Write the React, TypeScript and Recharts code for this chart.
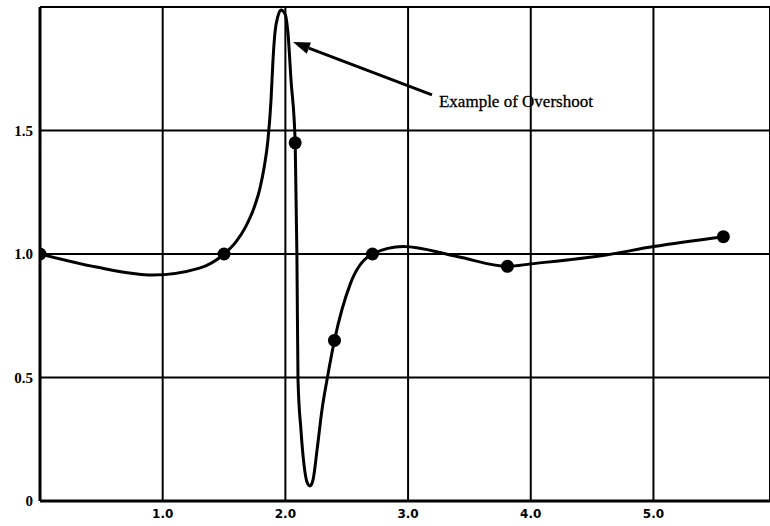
import React from "react";
import {
  ComposedChart,
  Line,
  Scatter,
  XAxis,
  YAxis,
  CartesianGrid,
  ReferenceLine,
} from "recharts";

// sample points (the dots)
const dotX = [0, 1.5, 2.08, 2.4, 2.71, 3.81, 5.57];
const dotY = [1.0, 1.0, 1.45, 0.65, 1.0, 0.95, 1.07];

// traced fitted curve, passing through the samples
const curveX = [
  0, 0.46, 0.92, 1.3, 1.5, 1.597, 1.679, 1.744, 1.793, 1.826, 1.858, 1.883,
  1.899, 1.915, 1.94, 1.964, 1.997, 2.021, 2.046, 2.08, 2.094, 2.103, 2.127,
  2.152, 2.176, 2.2, 2.225, 2.258, 2.298, 2.339, 2.4, 2.53, 2.71, 2.96, 3.4,
  3.81, 4.0, 4.6, 5.0, 5.57,
];
const curveY = [
  1.0, 0.947, 0.915, 0.943, 1.0, 1.049, 1.113, 1.186, 1.267, 1.348, 1.462,
  1.623, 1.785, 1.895, 1.964, 1.988, 1.972, 1.895, 1.704, 1.45, 0.996, 0.49,
  0.287, 0.146, 0.077, 0.061, 0.085, 0.206, 0.368, 0.49, 0.65, 0.88, 1.0,
  1.03, 0.99, 0.95, 0.96, 0.995, 1.03, 1.07,
];

const xTicks = [1, 2, 3, 4, 5];
const yTicks = [0, 0.5, 1.0, 1.5];

// annotation arrow: tail (by the text) -> head (at the overshoot)
const arrowFrom = { x: 3.195, y: 1.644 };
const arrowTo = { x: 2.062, y: 1.858 };
const arrowText = "Example of Overshoot";

const curveData = curveX.map((x, i) => ({ x, y: curveY[i] }));
const dotData = dotX.map((x, i) => ({ x, y: dotY[i] }));

const Dot = (props: any) => (
  <circle cx={props.cx} cy={props.cy} r={6.5} fill="#000" />
);

const Arrow = (props: any) => {
  const { x1, y1, x2, y2 } = props;
  const ang = Math.atan2(y2 - y1, x2 - x1);
  const len = 17;
  const half = 6;
  const bx = x2 - len * Math.cos(ang);
  const by = y2 - len * Math.sin(ang);
  const px = -Math.sin(ang) * half;
  const py = Math.cos(ang) * half;
  return (
    <g>
      <line x1={x1} y1={y1} x2={bx} y2={by} stroke="#000" strokeWidth={3} />
      <polygon
        points={`${x2},${y2} ${bx + px},${by + py} ${bx - px},${by - py}`}
        fill="#000"
      />
      <text
        x={x1 + 7}
        y={y1 + 12}
        fontFamily="Liberation Serif"
        fontSize={17}
        fill="#000"
        stroke="#000"
        strokeWidth={0.3}
      >
        {arrowText}
      </text>
    </g>
  );
};

export default function App() {
  return (
    <div style={{ position: "absolute", left: 0, top: 0, background: "#fff" }}>
      <ComposedChart
        width={770}
        height={526}
        margin={{ top: 7, right: 0, bottom: 0, left: 0 }}
      >
        <CartesianGrid stroke="#000" strokeWidth={2} />
        <XAxis
          type="number"
          dataKey="x"
          domain={[0, 5.95]}
          ticks={xTicks}
          allowDataOverflow
          height={25}
          tickLine={false}
          tickSize={0}
          tickMargin={8}
          axisLine={{ stroke: "#000", strokeWidth: 3 }}
          tickFormatter={(v: number) => v.toFixed(1)}
          tick={{
            fill: "#000",
            fontSize: 12,
            fontWeight: 700,
            fontFamily: "DejaVu Sans",
          }}
        />
        <YAxis
          type="number"
          dataKey="y"
          domain={[0, 2]}
          ticks={yTicks}
          allowDataOverflow
          width={40}
          tickLine={false}
          tickSize={0}
          tickMargin={7}
          axisLine={{ stroke: "#000", strokeWidth: 3 }}
          tickFormatter={(v: number) => (v === 0 ? "0" : v.toFixed(1))}
          tick={{
            fill: "#000",
            fontSize: 15,
            fontWeight: 700,
            fontFamily: "Liberation Serif",
          }}
        />
        <Line
          data={curveData}
          dataKey="y"
          type="monotoneX"
          stroke="#000"
          strokeWidth={3}
          dot={false}
          activeDot={false}
          isAnimationActive={false}
        />
        <Scatter
          data={dotData}
          dataKey="y"
          fill="#000"
          shape={Dot}
          isAnimationActive={false}
        />
        <ReferenceLine
          segment={[arrowFrom, arrowTo]}
          ifOverflow="visible"
          shape={Arrow}
        />
      </ComposedChart>
    </div>
  );
}
